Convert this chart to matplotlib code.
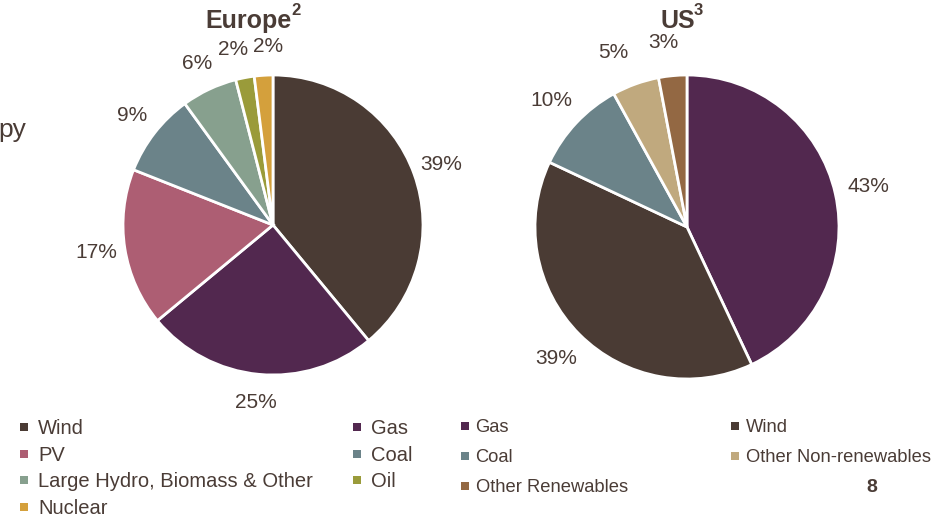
import matplotlib.pyplot as plt
from matplotlib.lines import Line2D

plt.rcParams['font.family'] = ['Liberation Sans', 'DejaVu Sans']

TXT = '#4a3c36'

# Europe
eu_labels = ['Wind', 'Gas', 'PV', 'Coal', 'Large Hydro, Biomass & Other', 'Oil', 'Nuclear']
eu_values = [39, 25, 17, 9, 6, 2, 2]
eu_colors = ['#4a3b34', '#52284f', '#ad5e73', '#6b8389', '#87a08e', '#9a9b3a', '#d4a03c']

# US
us_labels = ['Gas', 'Wind', 'Coal', 'Other Non-renewables', 'Other Renewables']
us_values = [43, 39, 10, 5, 3]
us_colors = ['#52284f', '#4a3b34', '#6b8389', '#c0a97e', '#936843']

W, H = 942, 519


def fx(x):
    return x / W


def fy(y):
    return 1 - y / H


fig = plt.figure(figsize=(9.42, 5.19), dpi=100)


def draw_pie(cx, cy, r, values, colors, dist):
    ax = fig.add_axes([fx(cx - r), fy(cy + r), 2 * r / W, 2 * r / H])
    wedges, texts, autotexts = ax.pie(
        values, colors=colors, startangle=90, counterclock=False, radius=1,
        autopct=lambda p: f'{p:.0f}%', pctdistance=dist,
        wedgeprops=dict(edgecolor='white', linewidth=2),
        textprops=dict(color=TXT, fontsize=15))
    ax.set_xlim(-1, 1)
    ax.set_ylim(-1, 1)
    ax.axis('off')
    return ax, autotexts


def nudge(t, dx):
    x, y = t.get_position()
    t.set_position((x + dx, y))


ax1, eu_txt = draw_pie(273, 225, 150, eu_values, eu_colors, 1.19)
# pull the two small top labels apart a little
nudge(eu_txt[5], -0.04)
nudge(eu_txt[6], 0.04)

ax2, us_txt = draw_pie(687, 227, 152, us_values, us_colors, 1.22)
nudge(us_txt[3], -0.07)
nudge(us_txt[4], -0.04)

# titles with raised footnote marks
fig.text(fx(205), fy(28), 'Europe', ha='left', va='baseline', fontsize=18,
         fontweight='bold', color=TXT)
fig.text(fx(291), fy(15), '2', ha='left', va='baseline', fontsize=12,
         fontweight='bold', color=TXT)
fig.text(fx(661), fy(28), 'US', ha='left', va='baseline', fontsize=18,
         fontweight='bold', color=TXT)
fig.text(fx(694), fy(15), '3', ha='left', va='baseline', fontsize=12,
         fontweight='bold', color=TXT)

fig.text(-0.002, fy(137), 'py', ha='left', va='baseline', fontsize=19, color=TXT)
fig.text(fx(872), fy(487), '8', ha='center', va='center', fontsize=14,
         fontweight='bold', color=TXT)


def add_legend(names, labels, colors, x, y, fs, spacing, pad, msize):
    handles = [Line2D([], [], linestyle='none', marker='s', markersize=msize,
                      markeredgewidth=0, color=colors[labels.index(n)]) for n in names]
    leg = fig.legend(handles, names, loc='upper left', bbox_to_anchor=(fx(x), fy(y)),
                     frameon=False, fontsize=fs, borderpad=0, borderaxespad=0,
                     handlelength=0.5, handletextpad=pad, labelspacing=spacing,
                     labelcolor=TXT)
    return leg


add_legend(['Wind', 'PV', 'Large Hydro, Biomass & Other', 'Nuclear'],
           eu_labels, eu_colors, 19, 419, 14.5, 0.38, 0.45, 6)
add_legend(['Gas', 'Coal', 'Oil'], eu_labels, eu_colors, 352, 419, 14.5, 0.38, 0.45, 6)
add_legend(['Gas', 'Coal', 'Other Renewables'], us_labels, us_colors,
           460, 419, 13.2, 0.72, 0.35, 6)
add_legend(['Wind', 'Other Non-renewables'], us_labels, us_colors,
           730, 419, 13.2, 0.72, 0.35, 6)

fig.savefig('out.png', dpi=100)
